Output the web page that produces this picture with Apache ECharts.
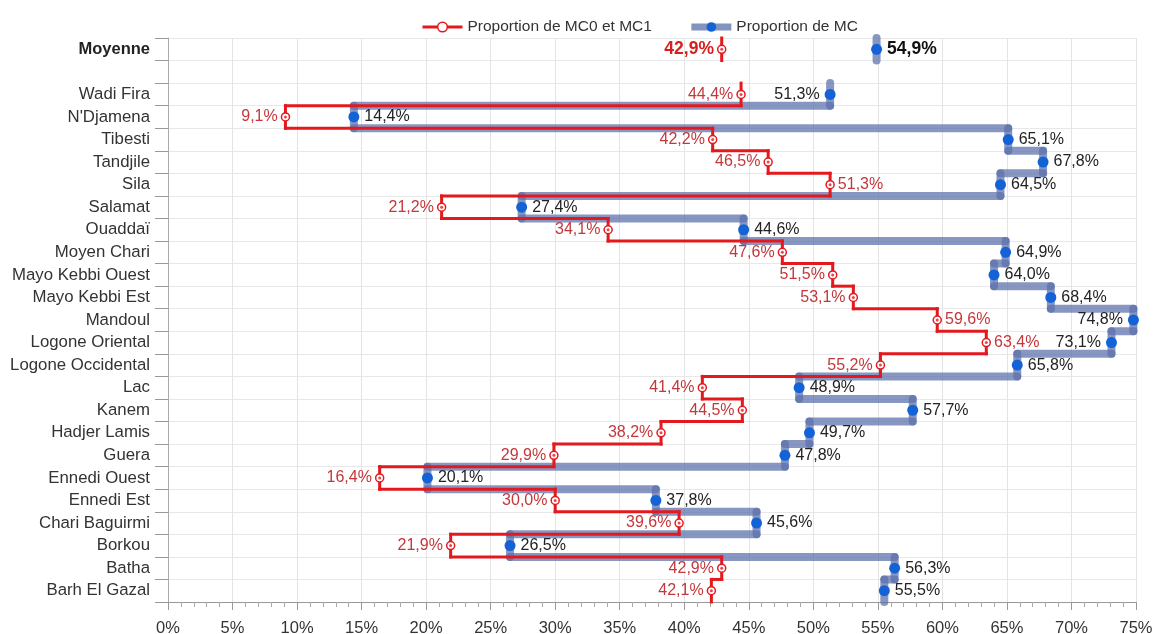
<!DOCTYPE html>
<html>
<head>
<meta charset="utf-8">
<script src="https://cdn.jsdelivr.net/npm/echarts@6/dist/echarts.min.js"></script>
<style>html,body{margin:0;padding:0;background:#fff}#c{width:1154px;height:634px}</style>
</head>
<body>
<div id="c"></div>
<script>
const categories = ['Moyenne', '', 'Wadi Fira', "N'Djamena", 'Tibesti', 'Tandjile', 'Sila', 'Salamat', 'Ouaddaï', 'Moyen Chari', 'Mayo Kebbi Ouest', 'Mayo Kebbi Est', 'Mandoul', 'Logone Oriental', 'Logone Occidental', 'Lac', 'Kanem', 'Hadjer Lamis', 'Guera', 'Ennedi Ouest', 'Ennedi Est', 'Chari Baguirmi', 'Borkou', 'Batha', 'Barh El Gazal'];
const mc01 = [42.9, null, 44.4, 9.1, 42.2, 46.5, 51.3, 21.2, 34.1, 47.6, 51.5, 53.1, 59.6, 63.4, 55.2, 41.4, 44.5, 38.2, 29.9, 16.4, 30.0, 39.6, 21.9, 42.9, 42.1];
const mc = [54.9, null, 51.3, 14.4, 65.1, 67.8, 64.5, 27.4, 44.6, 64.9, 64.0, 68.4, 74.8, 73.1, 65.8, 48.9, 57.7, 49.7, 47.8, 20.1, 37.8, 45.6, 26.5, 56.3, 55.5];
const xTicks = { min: 0, max: 75, interval: 5 };
const mc01LabelRight = ['Sila', 'Mandoul', 'Logone Oriental'];
const mcLabelLeft = ['Wadi Fira', 'Mandoul', 'Logone Oriental'];

const RED = '#e3191e';
const BLUE_LINE = '#5a6fab';
const BLUE_DOT = '#1463d6';
const FONT = 'Liberation Sans, Arial, sans-serif';

function stepData(vals) {
  const out = [];
  for (let i = 0; i < vals.length; i++) {
    if (vals[i] == null) continue;
    const nxt = (i + 1 < vals.length && vals[i + 1] != null) ? vals[i + 1] : '-';
    out.push([vals[i], categories[i], nxt]);
  }
  return out;
}
function fmt(v) { return v.toFixed(1).replace('.', ',') + '%'; }

function stepRender(color, width, opacity, cap) {
  return function (params, api) {
    const v = api.value(0), c = api.value(1), n = api.value(2);
    const p = api.coord([v, c]);
    const h = api.size([0, 1])[1];
    const top = p[1] - h / 2, bot = p[1] + h / 2;
    const style = { stroke: color, lineWidth: width, opacity: opacity, lineCap: cap, fill: null };
    const children = [{ type: 'line', shape: { x1: p[0], y1: top, x2: p[0], y2: bot }, style: style }];
    if (n != null && !isNaN(n)) {
      const q = api.coord([n, c]);
      children.push({ type: 'line', shape: { x1: p[0], y1: bot, x2: q[0], y2: bot }, style: style });
    }
    return { type: 'group', children: children };
  };
}

function markerData(vals, isRed) {
  const out = [];
  for (let i = 0; i < vals.length; i++) {
    if (vals[i] == null) continue;
    const name = categories[i];
    const item = { value: [vals[i], name] };
    const lab = {};
    if (isRed) {
      if (mc01LabelRight.indexOf(name) >= 0) lab.position = 'right';
    } else {
      if (mcLabelLeft.indexOf(name) >= 0) lab.position = 'left';
    }
    if (name === 'Moyenne') {
      lab.fontWeight = 'bold';
      lab.fontSize = 17.5;
      lab.color = isRed ? '#d81e1e' : '#111';
    }
    item.label = lab;
    out.push(item);
  }
  return out;
}
function dotData(vals) {
  const out = [];
  for (let i = 0; i < vals.length; i++) if (vals[i] != null) out.push([vals[i], categories[i]]);
  return out;
}

const chart = echarts.init(document.getElementById('c'));
chart.setOption({
  animation: false,
  textStyle: { fontFamily: FONT },
  legend: {
    top: 14, left: 416, itemWidth: 40, itemHeight: 12, itemGap: 36,
    textStyle: { fontSize: 15.5, color: '#333', fontFamily: FONT },
    data: [
      { name: 'Proportion de MC0 et MC1', lineStyle: { opacity: 1, width: 3, color: RED }, itemStyle: { color: '#fff', borderColor: RED, borderWidth: 1.5 } },
      { name: 'Proportion de MC', lineStyle: { opacity: 0.75, width: 7, color: BLUE_LINE }, itemStyle: { color: BLUE_DOT } }
    ]
  },
  grid: { left: 168, right: 18, top: 38, bottom: 32, containLabel: false, outerBoundsMode: 'none' },
  xAxis: {
    type: 'value', min: xTicks.min, max: xTicks.max, interval: xTicks.interval,
    axisLine: { show: true, lineStyle: { color: '#999' } },
    axisTick: { show: true, length: 8, lineStyle: { color: '#999' } },
    minorTick: { show: true, splitNumber: 5, length: 5, lineStyle: { color: '#aaa' } },
    splitLine: { show: true, lineStyle: { color: '#e4e4e4' } },
    axisLabel: { formatter: '{value}%', fontSize: 16.5, color: '#333', margin: 18, fontFamily: FONT }
  },
  yAxis: {
    type: 'category', data: categories, inverse: true,
    axisLine: { show: true, lineStyle: { color: '#aaa' } },
    axisTick: { show: true, length: 13, lineStyle: { color: '#999' } },
    splitLine: { show: true, lineStyle: { color: '#e8e8e8' } },
    axisLabel: {
      fontSize: 16.8, color: '#333', margin: 18, fontFamily: FONT,
      formatter: function (v) { return v === 'Moyenne' ? '{b|' + v + '}' : v; },
      rich: { b: { fontWeight: 'bold', fontSize: 16.5, color: '#222', fontFamily: FONT } }
    }
  },
  series: [
    {
      type: 'custom', name: 'stepMC', silent: true, z: 1,
      encode: { x: 0, y: 1 },
      data: stepData(mc),
      renderItem: stepRender(BLUE_LINE, 8, 0.72, 'round')
    },
    {
      type: 'custom', name: 'stepMC01', silent: true, z: 2,
      encode: { x: 0, y: 1 },
      data: stepData(mc01),
      renderItem: stepRender(RED, 3, 1, 'square')
    },
    {
      type: 'line', name: 'Proportion de MC', z: 5,
      data: markerData(mc, false),
      lineStyle: { opacity: 0 },
      symbol: 'circle', symbolSize: 11,
      itemStyle: { color: BLUE_DOT },
      emphasis: { disabled: true },
      label: { show: true, position: 'right', distance: 5, color: '#222', fontSize: 16, fontFamily: FONT, formatter: function (p) { return fmt(p.value[0]); } }
    },
    {
      type: 'line', name: 'Proportion de MC0 et MC1', z: 6,
      data: markerData(mc01, true),
      lineStyle: { opacity: 0 },
      symbol: 'circle', symbolSize: 8,
      itemStyle: { color: '#fff', borderColor: RED, borderWidth: 1.5 },
      emphasis: { disabled: true },
      label: { show: true, position: 'left', distance: 3, color: '#c4373a', fontSize: 16, fontFamily: FONT, formatter: function (p) { return fmt(p.value[0]); } }
    },
    {
      type: 'scatter', name: 'dots', silent: true, z: 7,
      data: dotData(mc01),
      symbol: 'circle', symbolSize: 3,
      itemStyle: { color: RED }
    }
  ]
});
</script>
</body>
</html>
